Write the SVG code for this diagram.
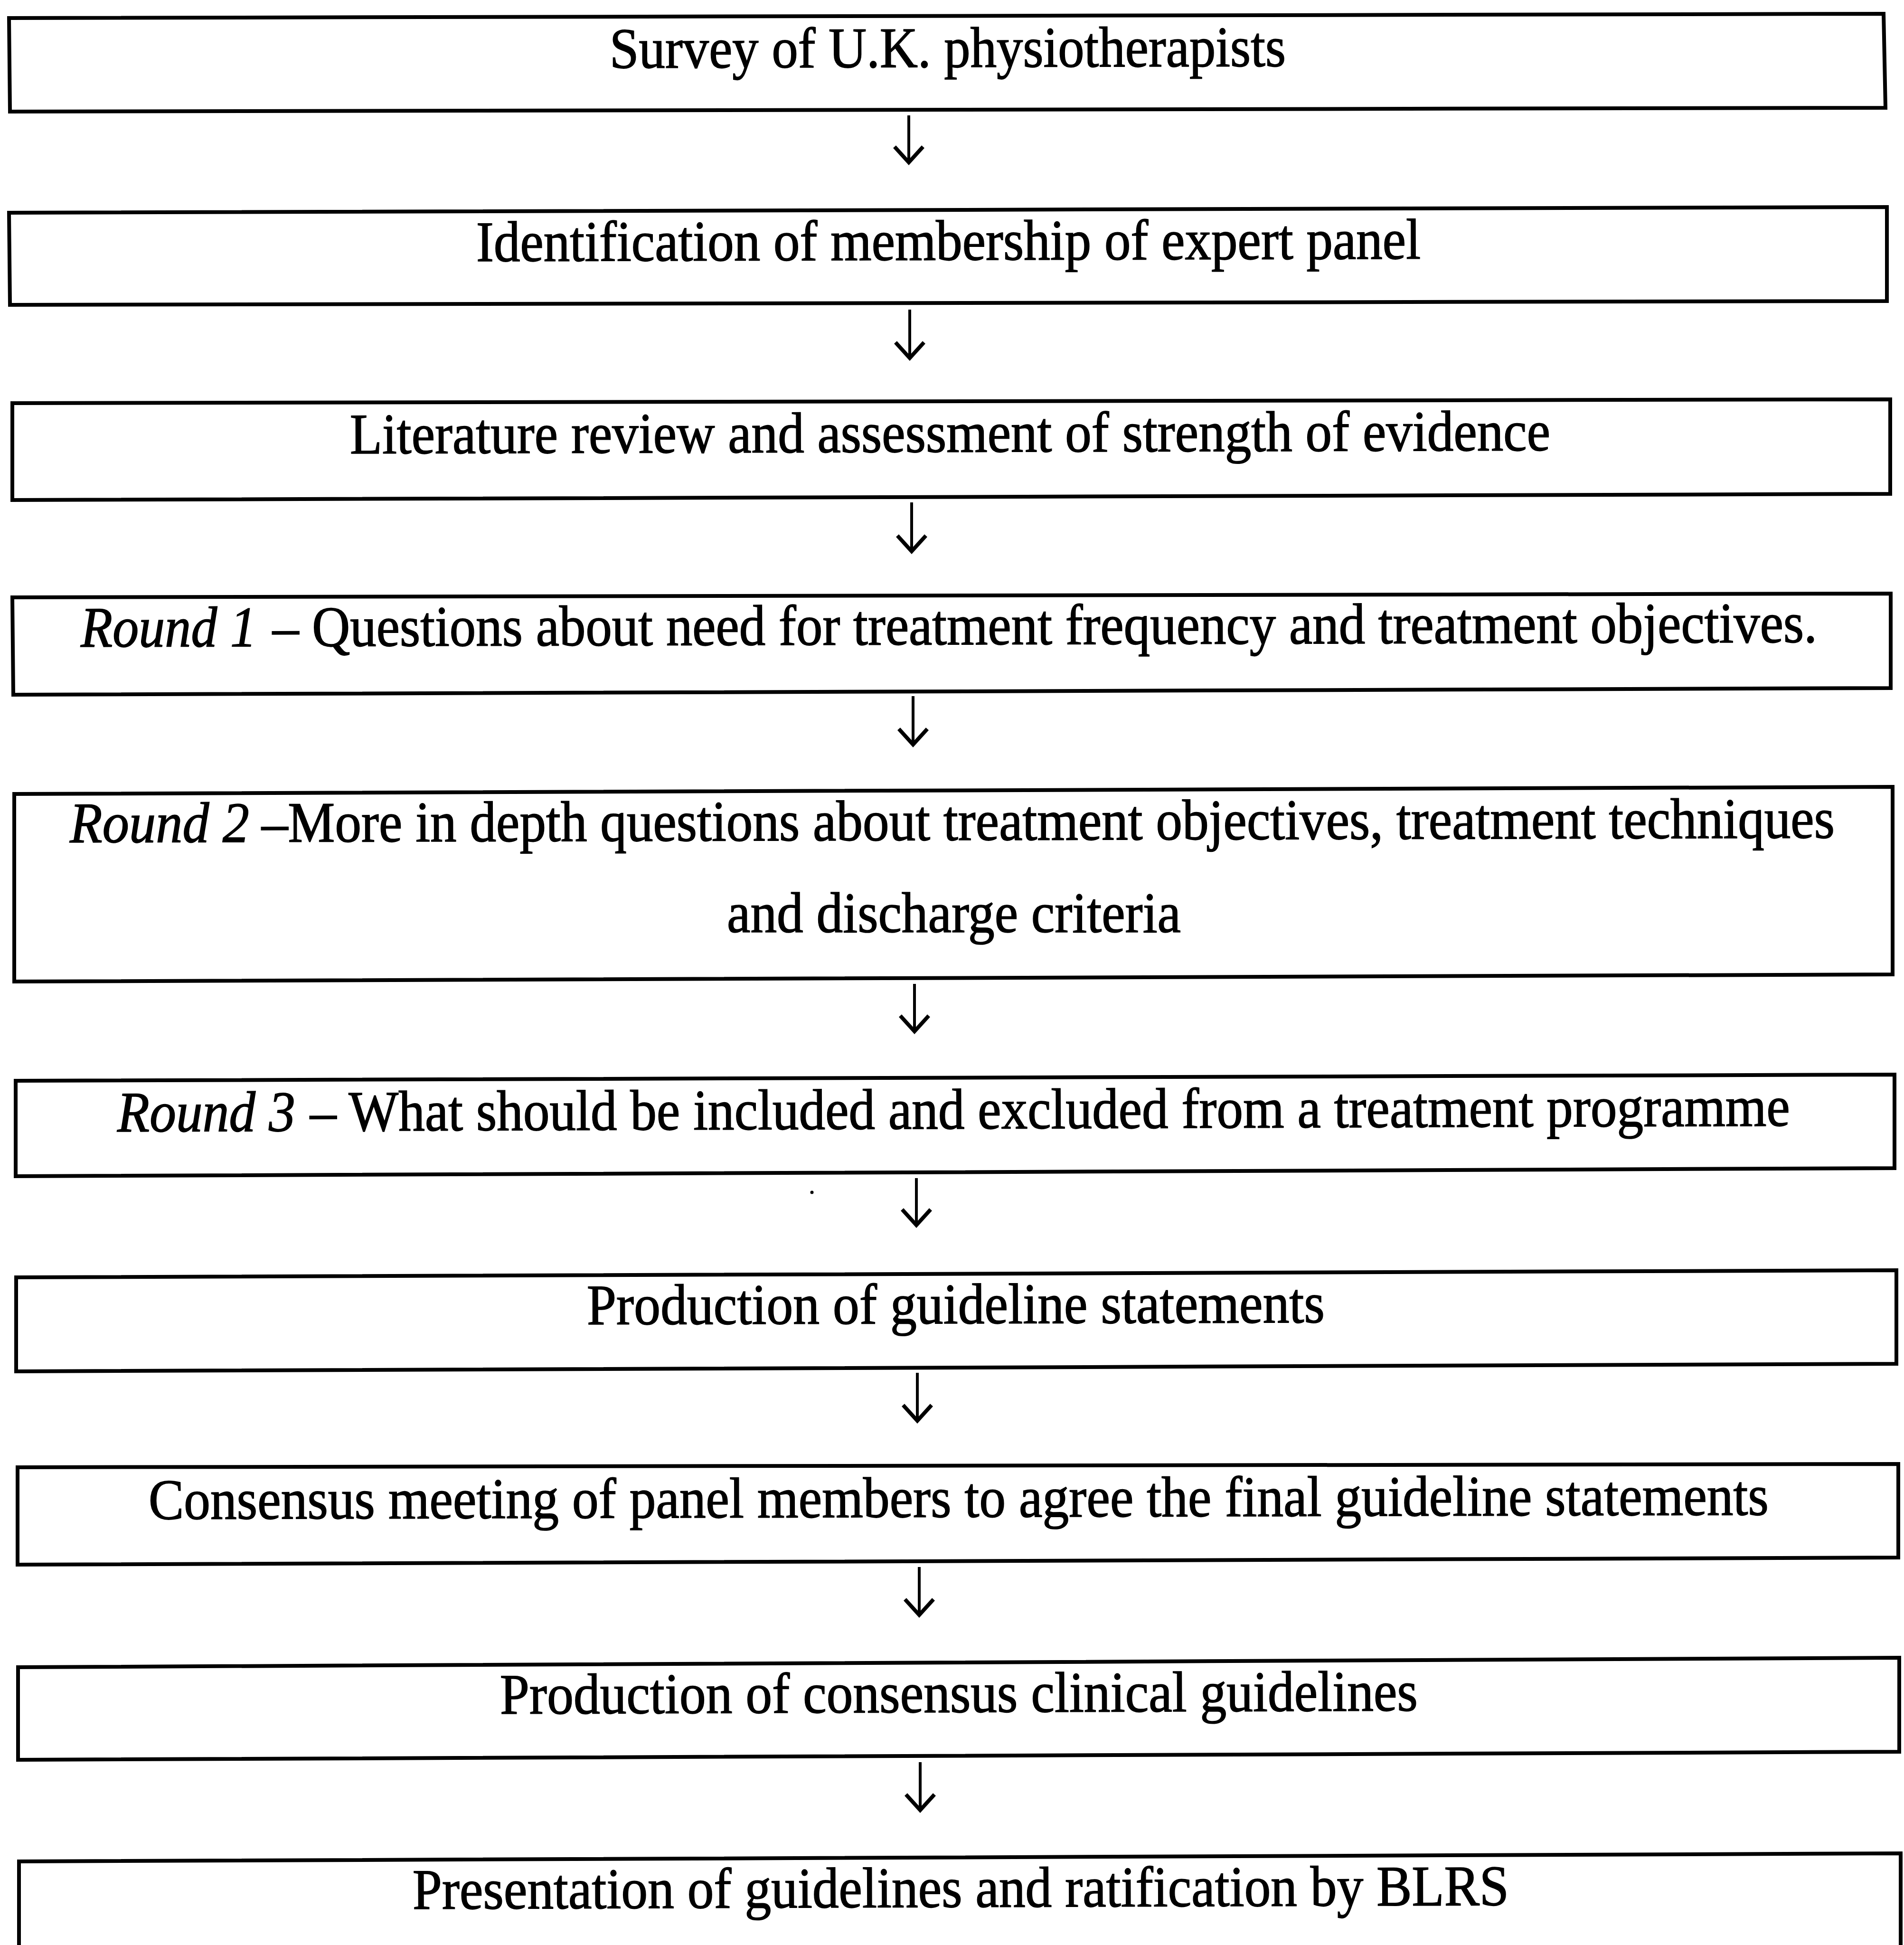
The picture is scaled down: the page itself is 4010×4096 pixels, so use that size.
<svg xmlns="http://www.w3.org/2000/svg" width="4010" height="4096" viewBox="0 0 4010 4096">
<style>
.box{fill:none;stroke:#000;stroke-width:8;stroke-linejoin:miter}
.t{font-family:"Liberation Serif","Times New Roman",serif;font-size:111px;fill:#000;stroke:#000;stroke-width:1.5}
.i{font-style:italic}
.c{stroke:#000;stroke-width:6;fill:none}
</style>
<defs>
<marker id="ah" markerUnits="userSpaceOnUse" markerWidth="70" markerHeight="44" refX="34" refY="36" orient="0" overflow="visible">
<path d="M4,3 L34,36 L64,3" fill="none" stroke="#000" stroke-width="8" stroke-linejoin="miter"/>
</marker>
</defs>
<rect x="0" y="0" width="4010" height="4096" fill="#fff"/>

<g id="node1">
<polygon class="box" points="19,38 3967,29 3971,227 21,235"/>
<text class="t" x="0" y="0" textLength="1424" lengthAdjust="spacingAndGlyphs" transform="rotate(-0.15 1284 143) translate(1284 143) scale(1 1.09)">Survey of U.K. physiotherapists</text>
</g>
<g id="node2">
<polygon class="box" points="19,448 3974,436 3974,634 21,642"/>
<text class="t" x="0" y="0" textLength="1989" lengthAdjust="spacingAndGlyphs" transform="rotate(-0.15 1003 550) translate(1003 550) scale(1 1.09)">Identification of membership of expert panel</text>
</g>
<g id="node3">
<polygon class="box" points="26,849 3981,841 3981,1040 26,1053"/>
<text class="t" x="0" y="0" textLength="2528" lengthAdjust="spacingAndGlyphs" transform="rotate(-0.15 737 955) translate(737 955) scale(1 1.09)">Literature review and assessment of strength of evidence</text>
</g>
<g id="node4">
<polygon class="box" points="26,1258 3982,1250 3982,1449 28,1463"/>
<g transform="rotate(-0.15 170 1362) translate(170 1362) scale(1 1.09)">
<text class="t i" x="0" y="0" textLength="370" lengthAdjust="spacingAndGlyphs">Round 1</text>
<text class="t" x="404" y="0" textLength="3253" lengthAdjust="spacingAndGlyphs">– Questions about need for treatment frequency and treatment objectives.</text>
</g>
</g>
<g id="node5">
<polygon class="box" points="30,1672 3986,1657 3986,2052 30,2067"/>
<g transform="rotate(-0.15 147 1774) translate(147 1774) scale(1 1.09)">
<text class="t i" x="0" y="0" textLength="378" lengthAdjust="spacingAndGlyphs">Round 2</text>
<text class="t" x="404" y="0" textLength="3313" lengthAdjust="spacingAndGlyphs">–More in depth questions about treatment objectives, treatment techniques</text>
</g>
<text class="t" x="0" y="0" textLength="956" lengthAdjust="spacingAndGlyphs" transform="translate(1531 1963) scale(1 1.09)">and discharge criteria</text>
</g>
<g id="node6">
<polygon class="box" points="33,2276 3990,2263 3990,2460 33,2477"/>
<g transform="rotate(-0.2 247 2383) translate(247 2383) scale(1 1.09)">
<text class="t i" x="0" y="0" textLength="375" lengthAdjust="spacingAndGlyphs">Round 3</text>
<text class="t" x="406" y="0" textLength="3117" lengthAdjust="spacingAndGlyphs">– What should be included and excluded from a treatment programme</text>
</g>
</g>
<g id="node7">
<polygon class="box" points="34,2690 3994,2675 3994,2872 34,2888"/>
<text class="t" x="0" y="0" textLength="1554" lengthAdjust="spacingAndGlyphs" transform="rotate(-0.15 1236 2789) translate(1236 2789) scale(1 1.09)">Production of guideline statements</text>
</g>
<g id="node8">
<polygon class="box" points="37,3090 3998,3083 3998,3280 37,3295"/>
<text class="t" x="0" y="0" textLength="3412" lengthAdjust="spacingAndGlyphs" transform="rotate(-0.15 313 3199) translate(313 3199) scale(1 1.09)">Consensus meeting of panel members to agree the final guideline statements</text>
</g>
<g id="node9">
<polygon class="box" points="38,3511 4000,3491 4000,3689 38,3706"/>
<text class="t" x="0" y="0" textLength="1933" lengthAdjust="spacingAndGlyphs" transform="rotate(-0.2 1053 3609) translate(1053 3609) scale(1 1.09)">Production of consensus clinical guidelines</text>
</g>
<g id="node10">
<polyline class="box" points="40,4110 40,3920 4003,3903 4003,4110"/>
<text class="t" x="0" y="0" textLength="2309" lengthAdjust="spacingAndGlyphs" transform="rotate(-0.2 869 4020) translate(869 4020) scale(1 1.09)">Presentation of guidelines and ratification by BLRS</text>
</g>

<g id="connectors">
<path class="c" marker-end="url(#ah)" d="M1914,243 L1914,342"/>
<path class="c" marker-end="url(#ah)" d="M1916,652 L1916,754"/>
<path class="c" marker-end="url(#ah)" d="M1920,1058 L1920,1161"/>
<path class="c" marker-end="url(#ah)" d="M1923,1466 L1923,1568"/>
<path class="c" marker-end="url(#ah)" d="M1926,2072 L1926,2172"/>
<path class="c" marker-end="url(#ah)" d="M1930,2481 L1930,2580"/>
<path class="c" marker-end="url(#ah)" d="M1932,2891 L1932,2992"/>
<path class="c" marker-end="url(#ah)" d="M1936,3300 L1936,3401"/>
<path class="c" marker-end="url(#ah)" d="M1938,3711 L1938,3812"/>
</g>
<circle cx="1710" cy="2511" r="3.5" fill="#000"/>
</svg>
